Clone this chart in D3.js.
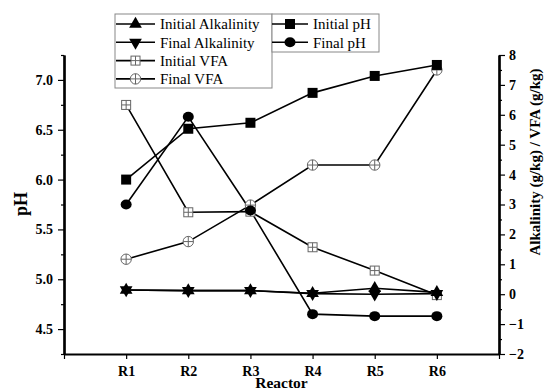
<!DOCTYPE html>
<html><head><meta charset="utf-8">
<script src="https://cdn.jsdelivr.net/npm/d3@7"></script>
<style>body{margin:0;background:#fff}svg{display:block}svg text{font-family:"Liberation Serif","Times New Roman","DejaVu Serif",serif !important}</style>
</head><body><svg id="c" width="545" height="390"></svg>
<script>
const categories = ["R1","R2","R3","R4","R5","R6"];
const initialPH = [6.0, 6.51, 6.57, 6.87, 7.04, 7.15];
const finalPH = [5.75, 6.63, 5.69, 4.65, 4.63, 4.63];
const initialAlk = [0.14, 0.12, 0.12, 0.03, 0.2, 0.06];
const finalAlk = [0.14, 0.12, 0.12, 0.02, 0.0, 0.02];
const initialVFA = [6.33, 2.74, 2.76, 1.57, 0.79, -0.03];
const finalVFA = [1.17, 1.76, 2.98, 4.32, 4.32, 7.5];
const leftTicks = [4.5, 5.0, 5.5, 6.0, 6.5, 7.0];
const rightTicks = [-2,-1,0,1,2,3,4,5,6,7,8];

const FONT = "'Liberation Serif','Times New Roman','DejaVu Serif',serif";
const svg = d3.select("#c").attr("font-family", FONT);
const L = 64, R = 499, T = 55, B = 354;
const x = d3.scaleLinear().domain([0,7]).range([L,R]);
const yL = d3.scaleLinear().domain([4.25,7.25]).range([B,T]);
const yR = d3.scaleLinear().domain([-2,8]).range([B,T]);

const gx = svg.append("g").attr("transform",`translate(0,${B})`)
  .call(d3.axisBottom(x).tickValues(d3.range(0,8)).tickSize(5).tickSizeOuter(0)
  .tickFormat(d => (d>=1&&d<=6)?categories[d-1]:""));
const gl = svg.append("g").attr("transform",`translate(${L},0)`)
  .call(d3.axisLeft(yL).tickValues(leftTicks).tickSize(6).tickSizeOuter(0).tickFormat(d3.format(".1f")));
svg.append("g").attr("transform",`translate(${L},0)`)
  .call(d3.axisLeft(yL).tickValues(d3.range(4.25,7.3,0.5)).tickSize(3).tickSizeOuter(0).tickFormat(""));
const gr = svg.append("g").attr("transform",`translate(${R},0)`)
  .call(d3.axisRight(yR).tickValues(rightTicks).tickSize(6).tickSizeOuter(0).tickFormat(d3.format("d")));
svg.append("g").attr("transform",`translate(${R},0)`)
  .call(d3.axisRight(yR).tickValues(d3.range(-1.5,8,1)).tickSize(3).tickSizeOuter(0).tickFormat(""));
svg.selectAll("g").attr("font-family", FONT);
svg.selectAll(".domain").attr("stroke","#000").attr("stroke-width",2.2);
svg.selectAll(".tick line").attr("stroke","#000").attr("stroke-width",1.2);
svg.selectAll(".tick text").attr("font-weight","bold").attr("font-size",14).attr("fill","#000");
gx.selectAll(".tick text").attr("y",9).attr("dy","0.95em");
gl.selectAll(".tick text").attr("x",-11);
gr.selectAll(".tick text").attr("x",10);

svg.append("text").attr("transform","translate(27,204) rotate(-90)").attr("text-anchor","middle")
  .attr("font-weight","bold").attr("font-size",18).text("pH");
svg.append("text").attr("transform","translate(540,162) rotate(-90)").attr("text-anchor","middle")
  .attr("font-weight","bold").attr("font-size",15).text("Alkalinity (g/kg) / VFA (g/kg)");
svg.append("text").attr("x",x(3.5)).attr("y",388).attr("text-anchor","middle")
  .attr("font-weight","bold").attr("font-size",15.5).text("Reactor");

const idx = d3.range(categories.length);
function drawLine(vals, y){
  svg.append("path").datum(idx).attr("fill","none").attr("stroke","#000").attr("stroke-width",1.6)
    .attr("d", d3.line().x(i=>x(i+1)).y(i=>y(vals[i])));
}
function marker(g, type){
  if(type==="sq") g.append("rect").attr("x",-5).attr("y",-5).attr("width",10).attr("height",10).attr("fill","#000");
  else if(type==="ci") g.append("ellipse").attr("rx",5.5).attr("ry",5).attr("fill","#000");
  else if(type==="up") g.append("path").attr("d",d3.symbol(d3.symbolTriangle,70)()).attr("fill","#000");
  else if(type==="dn") g.append("path").attr("d",d3.symbol(d3.symbolTriangle,70)()).attr("transform","rotate(180)").attr("fill","#000");
  else if(type==="sqp"){
    g.append("rect").attr("x",-4.5).attr("y",-4.5).attr("width",9).attr("height",9).attr("fill","#fff").attr("stroke","#666").attr("stroke-width",1);
    g.append("path").attr("d","M-4.5,0H4.5M0,-4.5V4.5").attr("stroke","#666").attr("stroke-width",1);
  } else if(type==="cip"){
    g.append("circle").attr("r",5.2).attr("fill","#fff").attr("stroke","#666").attr("stroke-width",1);
    g.append("path").attr("d","M-5.2,0H5.2M0,-5.2V5.2").attr("stroke","#666").attr("stroke-width",1);
  }
}
function drawMarkers(vals, y, type){
  idx.forEach(i=>{ const g = svg.append("g").attr("transform",`translate(${x(i+1)},${y(vals[i])})`); marker(g,type); });
}
const series = [
  [initialVFA, yR, "sqp"], [finalVFA, yR, "cip"],
  [initialAlk, yR, "up"], [finalAlk, yR, "dn"],
  [initialPH, yL, "sq"], [finalPH, yL, "ci"]
];
series.forEach(s=>drawLine(s[0],s[1]));
series.forEach(s=>drawMarkers(s[0],s[1],s[2]));

const leg1 = [["Initial Alkalinity","up"],["Final Alkalinity","dn"],["Initial VFA","sqp"],["Final VFA","cip"]];
const leg2 = [["Initial pH","sq"],["Final pH","ci"]];
svg.append("rect").attr("x",115).attr("y",14).attr("width",157).attr("height",74).attr("fill","#fff").attr("stroke","#888").attr("stroke-width",1);
svg.append("rect").attr("x",272).attr("y",14).attr("width",107).attr("height",38).attr("fill","#fff").attr("stroke","#888").attr("stroke-width",1);
function legRow(x0, x1, yy, label, type){
  svg.append("line").attr("x1",x0).attr("x2",x1).attr("y1",yy).attr("y2",yy).attr("stroke","#000").attr("stroke-width",1.6);
  marker(svg.append("g").attr("transform",`translate(${(x0+x1)/2},${yy})`), type);
  svg.append("text").attr("x",x1+5).attr("y",yy).attr("dy","0.35em").attr("font-size",15).text(label);
}
leg1.forEach((d,i)=>legRow(116,155,24+i*18.3,d[0],d[1]));
leg2.forEach((d,i)=>legRow(272,308,24+i*18.3,d[0],d[1]));
</script></body></html>
